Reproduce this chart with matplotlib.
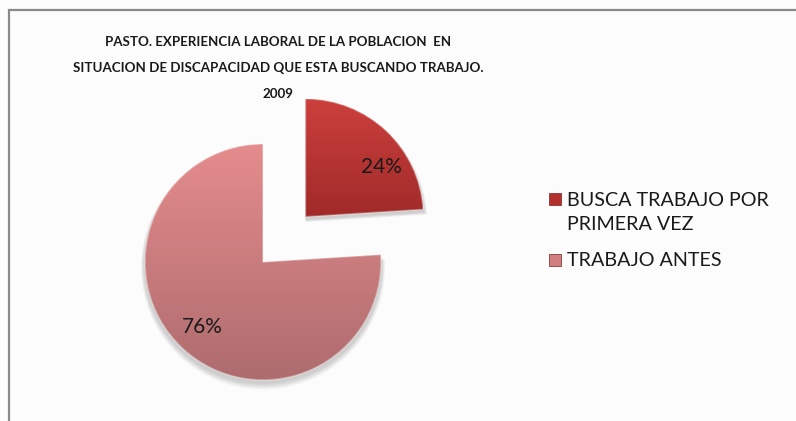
import numpy as np
import matplotlib.pyplot as plt
from matplotlib.colors import LinearSegmentedColormap
from matplotlib.patches import Rectangle, Wedge

# --- Datos ---
categorias = ['BUSCA TRABAJO POR\nPRIMERA VEZ', 'TRABAJO ANTES']
porcentajes = [24, 76]
titulo = ('PASTO. EXPERIENCIA LABORAL DE LA POBLACION  EN\n'
          'SITUACION DE DISCAPACIDAD QUE ESTA BUSCANDO TRABAJO.\n2009')

# colores (arriba / abajo de cada porción)
grad_colores = [('#CC403D', '#A02A29'), ('#E58C8D', '#AE6C6E')]
legend_colores = ['#B3302D', '#D08080']
fuente = ['Lato', 'DejaVu Sans']

W, H = 796, 421
fig = plt.figure(figsize=(W / 100, H / 100), dpi=100)
fig.patch.set_facecolor('#FCFCFC')
ax = fig.add_axes([0, 0, 1, 1])

# --- Pastel ---
centro = (263, H - 262)
radio = 118
sep = 62  # separación de la porción destacada (unidades de datos)
wedges, textos, pct = ax.pie(porcentajes, startangle=90, counterclock=False,
                             explode=[sep, 0], center=centro, radius=radio,
                             colors=legend_colores, autopct='%1.0f%%',
                             pctdistance=0.75, frame=True,
                             textprops=dict(fontsize=15, color='#1A1A1A',
                                            family=fuente),
                             wedgeprops=dict(lw=0))
ax.set_xlim(0, W)
ax.set_ylim(0, H)
ax.set_aspect('equal')
ax.axis('off')

# sombra suave bajo cada porción
for w in wedges:
    for i in range(6):
        sh = Wedge((w.center[0], w.center[1] - 3 - 0.5 * i), w.r + 1 + i * 0.6,
                   w.theta1, w.theta2, facecolor='#000000', alpha=0.03,
                   lw=0, zorder=0.5)
        ax.add_patch(sh)

# marco del gráfico
ax.add_patch(Rectangle((9, -20), W + 20, H - 10 + 20, fill=False,
                       edgecolor='#8A8A8A', lw=1.6))

# degradado vertical dentro de cada porción
fig.canvas.draw()
for w, (c_top, c_bot) in zip(wedges, grad_colores):
    cmap = LinearSegmentedColormap.from_list('g', [c_bot, c_top])
    x0, y0, x1, y1 = w.get_window_extent().transformed(ax.transData.inverted()).extents
    grad = np.linspace(0, 1, 256).reshape(-1, 1)
    im = ax.imshow(grad, cmap=cmap, origin='lower', extent=[x0, x1, y0, y1],
                   aspect='auto', zorder=w.get_zorder() + 0.1)
    im.set_clip_path(w)
    # borde biselado
    w.set_edgecolor((1, 1, 1, 0.3))
    w.set_linewidth(1.2)
    w.set_zorder(w.get_zorder() + 0.2)
    w.set_facecolor('none')
ax.set_xlim(0, W)
ax.set_ylim(0, H)

# etiqueta del 24% algo más hacia la derecha dentro de su porción
w0 = wedges[0]
ang = np.deg2rad(33)
pct[0].set_position((w0.center[0] + 0.77 * radio * np.cos(ang),
                     w0.center[1] + 0.77 * radio * np.sin(ang)))
for t in pct:
    t.set_zorder(5)

# --- Título ---
ax.text(278, H - 68, titulo, ha='center', va='center', fontsize=9.6,
        fontweight='bold', linespacing=2.35, color='#1A1A1A', family=fuente)

# --- Leyenda ---
leyenda_y = [H - 199, H - 260]
for lab, col, y in zip(categorias, legend_colores, leyenda_y):
    ax.add_patch(Rectangle((549, y - 6), 12, 12, facecolor=col,
                           edgecolor='#7A2020', lw=0.5))
    ax.text(567, y + 7 if '\n' in lab else y, lab, ha='left',
            va='top' if '\n' in lab else 'center',
            fontsize=14.2, color='#1A1A1A', linespacing=1.5, family=fuente)

fig.savefig('out.png', dpi=100, facecolor=fig.get_facecolor())
